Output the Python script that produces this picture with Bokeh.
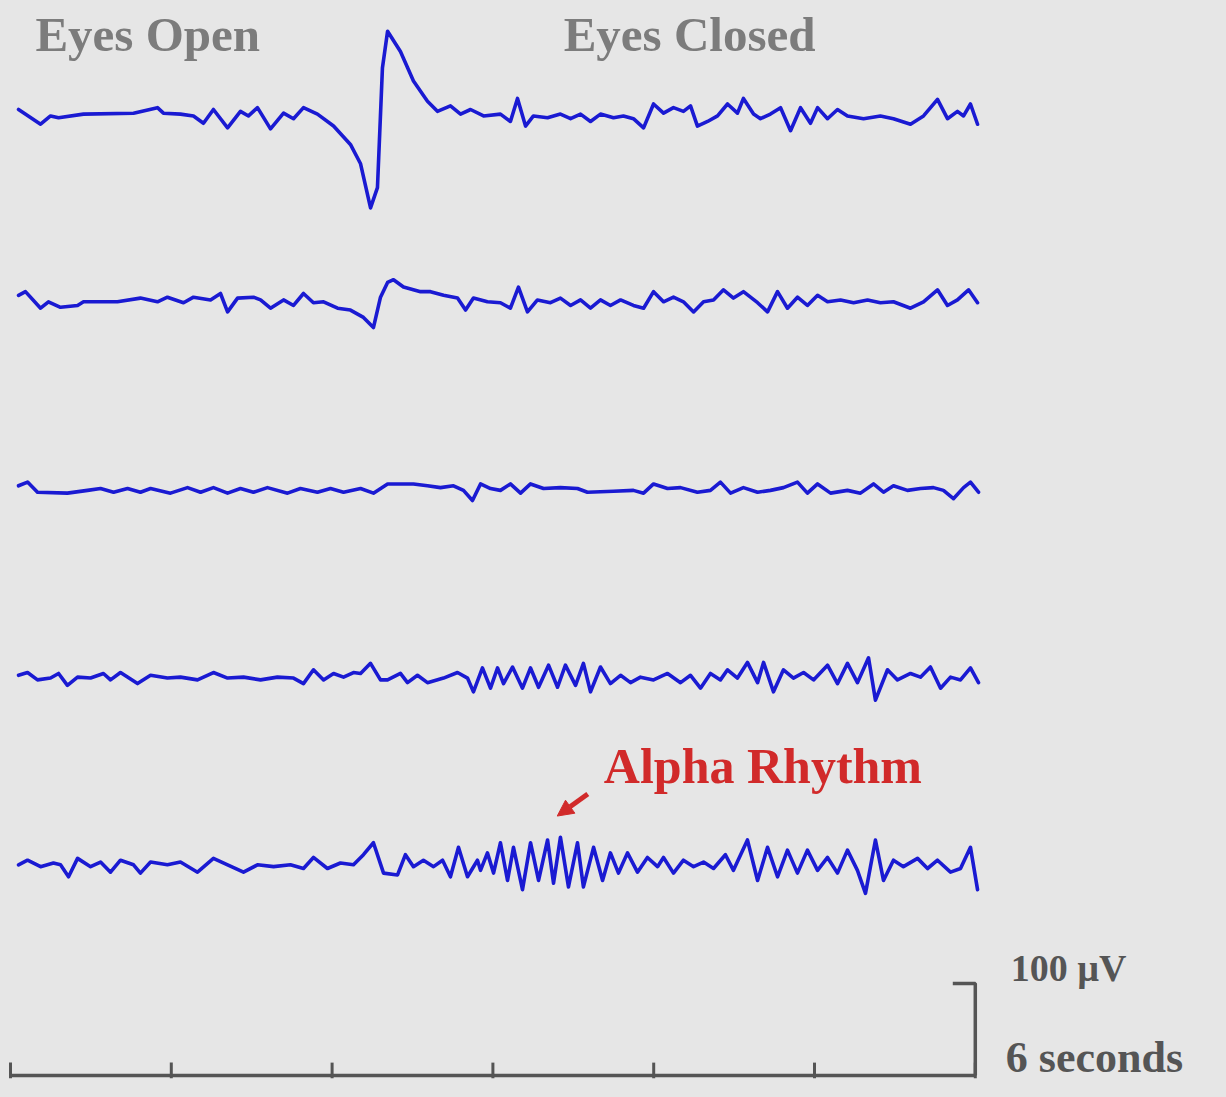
from bokeh.plotting import figure
from bokeh.models import Range1d, Arrow, NormalHead
from bokeh.embed import file_html
from bokeh.resources import INLINE
from bokeh.core.properties import value
from jinja2 import Template

# ---------------- data (time in seconds, amplitude in microvolts) ----------------
t1 = [
    0.050, 0.187, 0.249, 0.299, 0.454, 0.765, 0.914, 0.951, 1.057, 1.138,
    1.200, 1.262, 1.350, 1.430, 1.480, 1.536, 1.617, 1.698, 1.760, 1.822,
    1.909, 2.009, 2.114, 2.177, 2.239, 2.282, 2.313, 2.345, 2.425, 2.506,
    2.593, 2.655, 2.736, 2.799, 2.861, 2.942, 3.047, 3.109, 3.153, 3.203,
    3.252, 3.340, 3.420, 3.483, 3.545, 3.607, 3.669, 3.750, 3.812, 3.874,
    3.937, 3.999, 4.061, 4.123, 4.185, 4.229, 4.272, 4.335, 4.397, 4.459,
    4.521, 4.558, 4.621, 4.664, 4.726, 4.789, 4.851, 4.913, 4.975, 5.019,
    5.081, 5.143, 5.205, 5.305, 5.410, 5.491, 5.597, 5.678, 5.765, 5.827,
    5.889, 5.927, 5.970, 6.014]
v1 = [
    5, -11, -2, -4, 0, 1, 7, 1, 0, -2,
    -10, 5, -15, 3, -2, 7, -16, 1, -5, 7,
    0, -13, -33, -54, -102, -80, 50, 90, 68, 36,
    14, 3, 9, 0, 5, -2, 0, -8, 17, -13,
    -2, -4, 0, -5, 0, -8, 0, -4, -2, -5,
    -15, 11, 1, 7, 3, 9, -13, -8, -2, 11,
    1, 17, 0, -5, 0, 7, -18, 7, -10, 7,
    -5, 5, -2, -5, -2, -5, -11, -2, 16, -5,
    3, -2, 11, -11]

t2 = [
    0.050, 0.093, 0.187, 0.236, 0.311, 0.417, 0.454, 0.665, 0.808, 0.914,
    0.976, 1.076, 1.138, 1.244, 1.306, 1.350, 1.412, 1.511, 1.555, 1.617,
    1.698, 1.760, 1.822, 1.884, 1.947, 2.034, 2.114, 2.195, 2.257, 2.301,
    2.345, 2.382, 2.444, 2.550, 2.612, 2.693, 2.780, 2.830, 2.879, 2.966,
    3.047, 3.109, 3.159, 3.215, 3.277, 3.358, 3.420, 3.483, 3.545, 3.607,
    3.669, 3.731, 3.794, 3.874, 3.937, 3.999, 4.061, 4.123, 4.185, 4.248,
    4.310, 4.372, 4.434, 4.496, 4.558, 4.646, 4.708, 4.770, 4.832, 4.894,
    4.956, 5.019, 5.081, 5.162, 5.243, 5.330, 5.410, 5.491, 5.597, 5.678,
    5.765, 5.827, 5.889, 5.958, 6.014]
v2 = [
    3, 7, -11, -4, -10, -8, -4, -4, 0, -4,
    1, -5, 1, -2, 5, -15, 0, 1, -2, -11,
    -2, -8, 5, -5, -4, -11, -13, -21, -32, 1,
    17, 20, 12, 7, 7, 3, 0, -13, 0, -4,
    -5, -11, 12, -15, -2, -5, 0, -8, -2, -11,
    -2, -8, -2, -8, -11, 7, -4, 1, -4, -15,
    -4, -2, 9, 0, 7, -5, -15, 7, -11, 1,
    -8, 3, -4, -2, -5, -2, -5, -4, -11, -4,
    9, -8, -2, 9, -5]

t3 = [
    0.050, 0.106, 0.168, 0.354, 0.479, 0.560, 0.641, 0.728, 0.808, 0.871,
    0.995, 1.101, 1.182, 1.262, 1.350, 1.430, 1.511, 1.598, 1.723, 1.803,
    1.909, 1.990, 2.071, 2.177, 2.257, 2.345, 2.425, 2.506, 2.593, 2.674,
    2.755, 2.817, 2.873, 2.923, 2.985, 3.047, 3.109, 3.172, 3.234, 3.315,
    3.420, 3.526, 3.588, 3.750, 3.874, 3.937, 3.999, 4.086, 4.167, 4.272,
    4.353, 4.415, 4.478, 4.558, 4.646, 4.726, 4.807, 4.894, 4.956, 5.019,
    5.100, 5.205, 5.286, 5.367, 5.429, 5.491, 5.578, 5.659, 5.740, 5.802,
    5.864, 5.927, 5.970, 6.020]
v3 = [
    3, 7, -4, -5, -2, 0, -4, 0, -4, 0,
    -5, 1, -4, 1, -5, 0, -4, 1, -5, 0,
    -4, 0, -4, 0, -5, 5, 5, 5, 3, 1,
    3, -2, -13, 5, 0, -2, 5, -5, 5, 0,
    1, 0, -4, -3, -2, -5, 5, 0, 1, -4,
    -2, 7, -5, 1, -4, -2, 1, 7, -5, 5,
    -5, -2, -5, 5, -4, 3, -2, 0, 1, -2,
    -11, 1, 7, -4]

t4 = [
    0.050, 0.106, 0.168, 0.249, 0.299, 0.354, 0.417, 0.498, 0.578, 0.622,
    0.684, 0.790, 0.871, 0.976, 1.057, 1.163, 1.262, 1.350, 1.449, 1.555,
    1.660, 1.760, 1.822, 1.884, 1.947, 2.009, 2.071, 2.133, 2.177, 2.239,
    2.301, 2.345, 2.425, 2.469, 2.531, 2.593, 2.693, 2.780, 2.842, 2.879,
    2.935, 2.985, 3.029, 3.066, 3.122, 3.184, 3.234, 3.284, 3.346, 3.402,
    3.451, 3.514, 3.563, 3.607, 3.669, 3.731, 3.794, 3.856, 3.918, 3.999,
    4.086, 4.167, 4.229, 4.291, 4.353, 4.415, 4.459, 4.521, 4.583, 4.646,
    4.683, 4.745, 4.807, 4.869, 4.932, 4.994, 5.081, 5.143, 5.205, 5.267,
    5.336, 5.379, 5.454, 5.516, 5.597, 5.659, 5.721, 5.784, 5.846, 5.908,
    5.970, 6.020]
v4 = [
    1, 4, -4, -2, 3, -10, -1, -2, 3, -4,
    4, -8, 1, -2, -1, -4, 4, -2, -1, -4,
    -1, -2, -8, 7, -4, 3, -1, 4, 3, 14,
    -4, -4, 3, -7, 1, -7, -2, 4, -2, -17,
    9, -13, 9, -8, 10, -13, 9, -12, 12, -12,
    12, -10, 14, -17, 10, -8, 1, -7, -1, -4,
    3, -7, 1, -13, 3, -4, 7, -2, 15, -7,
    15, -17, 7, -2, 4, -4, 12, -8, 14, -7,
    20, -26, 7, -4, 3, -1, 10, -13, -1, -4,
    9, -7]

t5 = [
    0.050, 0.106, 0.187, 0.267, 0.311, 0.361, 0.417, 0.498, 0.560, 0.622,
    0.684, 0.765, 0.808, 0.871, 0.976, 1.057, 1.163, 1.262, 1.350, 1.449,
    1.536, 1.636, 1.741, 1.822, 1.884, 1.971, 2.052, 2.133, 2.195, 2.257,
    2.320, 2.407, 2.456, 2.506, 2.568, 2.631, 2.687, 2.736, 2.786, 2.842,
    2.904, 2.923, 2.966, 3.004, 3.047, 3.091, 3.128, 3.184, 3.234, 3.284,
    3.340, 3.377, 3.420, 3.470, 3.526, 3.563, 3.626, 3.682, 3.731, 3.781,
    3.837, 3.899, 3.961, 4.024, 4.061, 4.123, 4.185, 4.248, 4.310, 4.372,
    4.446, 4.496, 4.583, 4.646, 4.708, 4.770, 4.832, 4.894, 4.956, 5.019,
    5.081, 5.143, 5.205, 5.267, 5.317, 5.379, 5.429, 5.491, 5.553, 5.641,
    5.703, 5.765, 5.846, 5.908, 5.970, 6.014]
v5 = [
    -3, 2, -5, -1, -3, -16, 4, -5, 0, -11,
    2, -3, -12, 0, -3, 0, -11, 4, -3, -11,
    -3, -5, -3, -7, 5, -7, -1, -3, 8, 21,
    -12, -14, 8, -5, 2, -5, 2, -16, 16, -16,
    2, -9, 10, -12, 21, -20, 16, -30, 21, -20,
    24, -23, 27, -27, 21, -27, 16, -20, 10, -12,
    10, -11, 5, -5, 5, -12, 2, -5, 0, -7,
    8, -9, 24, -20, 16, -16, 13, -12, 13, -9,
    5, -12, 13, -9, -34, 24, -20, 2, -5, 4,
    -7, 2, -11, -7, 16, -30]

channel_offsets = [1045, 845, 638, 434, 232]   # microvolts, vertical stacking
tick_seconds = [0, 1, 2, 3, 4, 5, 6]
scale_seconds = 6
scale_microvolts = 100

# ---------------- styling ----------------
BG = "#e6e6e6"
BLUE = "#1a1ad2"
GRAY_TXT = "#7c7c7c"
DARK = "#555555"
RED = "#d12a2a"
SERIF = value("Liberation Serif")

W, H = 1226, 1097
PX_PER_S = 160.8
UV_PER_PX = 100.0 / 92.0
x_start = -10.0 / PX_PER_S
x_end = x_start + W / PX_PER_S
y_start = -(H - 1075) * UV_PER_PX
y_end = y_start + H * UV_PER_PX

p = figure(width=W, height=H,
           x_range=Range1d(x_start, x_end), y_range=Range1d(y_start, y_end),
           output_backend="svg", toolbar_location=None,
           x_axis_location=None, y_axis_location=None,
           min_border=0, background_fill_color=BG, border_fill_color=BG,
           outline_line_color=None)
p.xgrid.visible = False
p.ygrid.visible = False

# EEG traces
for t, v, off in zip([t1, t2, t3, t4, t5], [v1, v2, v3, v4, v5], channel_offsets):
    p.line(t, [vi + off for vi in v], line_color=BLUE, line_width=3.6,
           line_join="round", line_cap="round")

# time axis with one tick per second
p.line([tick_seconds[0], tick_seconds[-1]], [0, 0], line_color=DARK, line_width=3.5)
p.segment(x0=tick_seconds, y0=[-3] * len(tick_seconds),
          x1=tick_seconds, y1=[14] * len(tick_seconds),
          line_color=DARK, line_width=3)

# amplitude scale bar
p.line([scale_seconds - 0.14, scale_seconds, scale_seconds],
       [scale_microvolts, scale_microvolts, 0], line_color=DARK, line_width=3.5)

# texts
p.text(x=[0.155], y=[1131], text=["Eyes Open"], text_font=SERIF,
       text_font_style="bold", text_font_size="49px", text_color=GRAY_TXT,
       text_baseline="alphabetic", text_align="left")
p.text(x=[3.44], y=[1131], text=["Eyes Closed"], text_font=SERIF,
       text_font_style="bold", text_font_size="49px", text_color=GRAY_TXT,
       text_baseline="alphabetic", text_align="left")
p.text(x=[3.69], y=[336], text=["Alpha Rhythm"], text_font=SERIF,
       text_font_style="bold", text_font_size="50px", text_color=RED,
       text_baseline="alphabetic", text_align="left")
p.text(x=[6.22], y=[117], text=["100 µV"], text_font=SERIF,
       text_font_style="bold", text_font_size="38px", text_color=DARK,
       text_baseline="alphabetic", text_align="left")
p.text(x=[6.19], y=[20], text=["6 seconds"], text_font=SERIF,
       text_font_style="bold", text_font_size="44px", text_color=DARK,
       text_baseline="alphabetic", text_align="left")

# red arrow pointing at alpha rhythm
p.add_layout(Arrow(end=NormalHead(size=16, fill_color=RED, line_color=RED),
                   x_start=3.59, y_start=306, x_end=3.40, y_end=282,
                   line_color=RED, line_width=5))

template = Template("""{% extends base %}
{% block preamble %}<style>html, body{background:#e6e6e6; margin:0; padding:0; overflow:hidden;}</style>{% endblock %}""")

open("out.html", "w").write(file_html(p, INLINE, template=template))
